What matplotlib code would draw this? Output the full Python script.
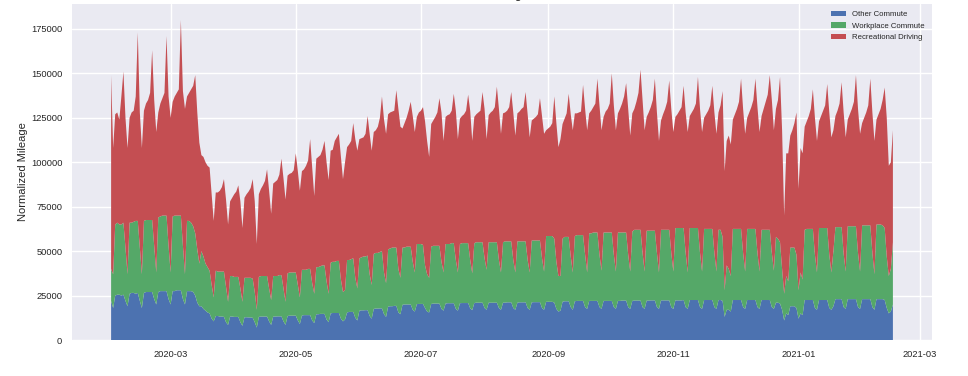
import numpy as np
import pandas as pd
import matplotlib
matplotlib.use('Agg')
import matplotlib.pyplot as plt
import matplotlib.dates as mdates

# Daily normalized mileage by trip type (thousands), 2020-02-01 .. 2021-02-16
# one line per week (Mon..Sun), first line is Sat/Sun, last line Mon/Tue
other_commute = [
    22, 18,
    25, 25.5, 25.5, 25, 25.5, 22, 19,
    26, 26.5, 26.5, 26, 26.5, 22, 18,
    26.5, 27, 27, 27, 27, 23, 20,
    27, 27.5, 27.5, 27.5, 27.5, 23, 20,
    27.5, 27.5, 28, 28, 28, 23, 20,
    27.5, 27.5, 27.5, 27, 25, 21, 19,
    19, 17.5, 16.5, 15.5, 15, 12, 10.5,
    13.5, 13.5, 13.2, 13.2, 13, 10, 8.5,
    13.2, 13.2, 13, 13, 13, 10, 8,
    12.8, 12.8, 12.7, 12.7, 12.5, 10, 7,
    13, 13.2, 13.2, 13.2, 13.2, 10.5, 8.5,
    13.2, 13.2, 13.3, 13.3, 13.3, 10.5, 8.5,
    13.5, 13.7, 13.7, 13.7, 13.7, 11, 9,
    13.8, 14, 14, 14, 14, 11, 9.5,
    14.5, 14.5, 14.7, 14.7, 14.7, 11.5, 10,
    15, 15.2, 15.2, 15.2, 15.2, 12, 10.5,
    11.5, 15.5, 15.8, 15.8, 15.8, 12.5, 11,
    16.5, 16.7, 16.7, 16.8, 16.8, 13.5, 12,
    17.5, 17.7, 17.7, 17.8, 17.8, 14.5, 13,
    18.8, 19, 19, 19.2, 19.2, 15.5, 14.5,
    19.8, 20, 20, 20, 20, 17, 16,
    20.2, 20.3, 20.3, 20.3, 18, 16, 15.5,
    20.3, 20.5, 20.5, 20.5, 20.5, 17.5, 16.5,
    20.5, 20.7, 20.7, 20.7, 20.7, 17.5, 16.5,
    20.7, 20.8, 20.8, 20.8, 20.8, 17.8, 16.8,
    20.8, 21, 21, 21, 21, 18, 17,
    21, 21, 21, 21, 21, 18, 17,
    21, 21, 21.2, 21.2, 21.2, 18, 17,
    21, 21.2, 21.2, 21.2, 21.2, 18, 17,
    21.2, 21.3, 21.3, 21.3, 21.3, 18, 17,
    21.5, 21.5, 21.5, 21.5, 21, 17.5, 16,
    16.5, 21.5, 21.8, 21.8, 21.8, 18.5, 17,
    21.8, 22, 22, 22, 22, 18.5, 17.5,
    22, 22, 22, 22, 22, 18.5, 17.5,
    22, 22, 22, 22, 22, 18.5, 17.5,
    22, 22, 22.2, 22.2, 22.2, 18.5, 17.5,
    22, 22.2, 22.2, 22.2, 22.2, 18.5, 17.5,
    22.2, 22.2, 22.3, 22.3, 22.3, 18.5, 17.5,
    22.3, 22.3, 22.3, 22.3, 22.3, 18.5, 17.5,
    22.3, 22.3, 22.3, 22.3, 22.5, 18.5, 17.5,
    22.5, 22.5, 22.5, 22.5, 22.5, 18.5, 17.5,
    22.5, 22.5, 22.5, 22.5, 22.5, 18.5, 17.5,
    22.5, 22.5, 22, 13, 17, 17, 16,
    22.5, 22.5, 22.5, 22.5, 22.5, 18.5, 17.5,
    22.5, 22.5, 22.5, 22.5, 22.5, 18.5, 17.5,
    22.5, 22.5, 22.5, 22.5, 22.5, 18.5, 17.5,
    21, 21, 20.5, 17, 11, 15, 14,
    19, 19, 19, 18, 12, 15, 14,
    22.5, 22.5, 22.5, 22.5, 22.5, 18, 17,
    22.5, 22.5, 22.5, 22.5, 22.5, 18, 17,
    19, 23, 23, 23, 23, 18.5, 17.5,
    23, 23, 23, 23, 23, 18.5, 17.5,
    23, 23, 23, 23, 23, 18.5, 17,
    23, 23, 23, 23, 22.5, 18, 15,
    16, 20,
]

workplace_commute = [
    18, 19,
    40, 40.5, 39.5, 40, 40.5, 30, 18,
    40, 39.5, 40, 41, 40.5, 30, 19,
    40.5, 40.5, 40.5, 40.5, 40.5, 30, 18,
    42, 42, 42.5, 42.5, 42.5, 30, 18,
    42, 42.5, 42, 42, 42, 30, 17,
    39.5, 39.5, 38.5, 37, 35, 30, 24,
    31, 29.5, 26.5, 25.5, 24, 19, 13.5,
    25.5, 25, 25.3, 25.3, 25.5, 20, 13,
    22.8, 22.8, 22.5, 22.5, 22.5, 19, 13.5,
    22.2, 22.2, 22.3, 22.3, 22, 17, 10,
    22.5, 22.8, 22.8, 22.8, 22.8, 18.5, 14,
    22.8, 22.8, 22.7, 23.2, 23.2, 18.5, 13,
    24, 24.3, 24.3, 24.3, 24.3, 20, 15,
    25.7, 25.5, 25.5, 26, 26, 21, 16.5,
    26.5, 26.5, 26.8, 27.3, 27.3, 21.5, 16,
    28.5, 28.8, 28.8, 29.3, 29.3, 22, 16.5,
    16.5, 29.5, 29.2, 29.7, 30.2, 22.5, 18,
    29.5, 29.8, 30.3, 30.2, 30.7, 23.5, 19,
    31, 31.3, 31.3, 31.7, 32.2, 23.5, 19,
    32.2, 32.5, 33, 32.8, 32.8, 24.5, 20.5,
    32.2, 32, 32.5, 32.5, 32.5, 27, 22,
    33.8, 33.7, 33.7, 33.2, 24, 21, 19.5,
    32.2, 32.5, 32.5, 32.5, 32.5, 26.5, 21.5,
    33.5, 33.3, 33.3, 33.8, 33.8, 27.5, 21.5,
    33.3, 33.7, 33.7, 33.7, 33.7, 27.2, 20.7,
    33.7, 34, 34, 34, 34, 28, 22.5,
    34, 34, 34, 34, 34, 27, 21,
    34, 34.5, 34.3, 34.3, 34.3, 27, 21,
    34.5, 34.3, 34.3, 34.3, 34.3, 27, 21,
    34.8, 34.7, 34.7, 34.7, 34.7, 28, 21.5,
    37, 37, 37, 37, 36, 26.5, 20,
    19.5, 35.5, 36.2, 36.2, 36.2, 28.5, 21,
    36.7, 37, 37, 37, 37, 29.5, 20.5,
    38, 38, 38.5, 38.5, 38.5, 29.5, 21.5,
    38.5, 38.5, 38.5, 38.5, 38.5, 29.5, 21,
    38.5, 38.5, 38.3, 38.3, 38.3, 29.5, 21,
    39, 39.8, 39.8, 39.8, 39.8, 30.5, 21,
    39.3, 39.3, 39.2, 39.2, 39.2, 30.5, 20.5,
    39.7, 39.7, 39.7, 39.7, 39.7, 30.5, 21,
    40.7, 40.7, 40.7, 40.7, 40.5, 30.5, 20.5,
    40.5, 40.5, 40.5, 40.5, 40.5, 30.5, 21,
    40, 40, 40, 40, 40, 30.5, 21,
    39.5, 39.5, 36, 15, 25, 23, 20,
    40, 40, 40, 40, 40, 30.5, 21,
    40, 40, 40, 40, 40, 30.5, 21,
    39.5, 39.5, 39.5, 39.5, 39.5, 30.5, 21.5,
    37, 36, 34.5, 23, 15, 21, 19,
    33, 33, 33, 30, 16, 23, 20,
    39.5, 40, 40, 40, 40, 30, 21,
    40.5, 40.5, 40.5, 40.5, 40.5, 30, 21,
    31, 40.5, 40.5, 40.5, 40.5, 30, 21,
    41, 41, 41, 41, 41, 30.5, 21,
    41.5, 41.5, 41.5, 41.5, 41.5, 30.5, 20,
    42, 42, 42, 41.5, 40.5, 29, 21,
    24, 35,
]

recreational_driving = [
    109, 71,
    62, 62, 59, 72, 85, 73, 71,
    59, 62, 62.5, 70, 106, 76, 71,
    62, 65.5, 67.5, 71.5, 95.5, 82, 79,
    59, 63.5, 66, 69, 101, 84, 87,
    64.5, 67, 69, 71, 110, 87, 93,
    70, 72, 75, 79, 89, 77, 68,
    54, 56, 57, 57, 58, 51, 43,
    44, 44.5, 45.5, 47.5, 52, 49, 43.5,
    42, 44, 46.5, 48, 51.5, 49, 41.5,
    45, 47, 48.5, 50.5, 56, 51, 37,
    46.5, 49, 51, 53.5, 60, 55, 48.5,
    52, 53, 54, 56.5, 65.5, 62, 57.5,
    55, 55.5, 56, 57.5, 67, 64, 60,
    55.5, 56.5, 58.5, 61, 73, 65, 55,
    61, 62, 62.5, 65, 70, 67, 64,
    63, 63, 68, 69.5, 71.5, 69, 63.5,
    72, 63.5, 65, 66.5, 76, 78, 77.5,
    67, 67, 67, 69, 78.5, 79, 75.5,
    68.5, 69, 71, 75.5, 87, 86, 84,
    76, 76.5, 76.5, 77, 88.5, 90, 85,
    67, 70, 72.5, 76.5, 81.5, 82, 79,
    71.5, 74, 75, 77.5, 81, 75, 68,
    69, 70.5, 72.5, 75, 83, 84, 74,
    71.5, 72.5, 73, 74.5, 84, 84, 75,
    70.5, 71.5, 72.5, 74.5, 83.5, 84, 74.5,
    71, 72, 73, 74, 84.5, 84, 73.5,
    71.5, 73, 74, 76, 87.5, 85, 78,
    72.5, 72.5, 73.5, 75.5, 84, 83, 77,
    72, 73, 74.5, 75.5, 84, 82, 76,
    67.5, 68.5, 69.5, 71, 80, 80, 77.5,
    59.5, 60.5, 61.5, 63.5, 80, 78, 72.5,
    77, 64.5, 66.5, 69.5, 80.5, 80, 80,
    69, 68.5, 69, 69.5, 84.5, 82, 80,
    67.5, 69, 70.5, 72.5, 86.5, 84, 79,
    65, 68, 69.5, 72.5, 89.5, 84, 79.5,
    67, 69.5, 72.5, 76.5, 84, 82, 76.5,
    66.5, 68, 72, 77, 90, 86, 79.5,
    64, 66.5, 69.5, 73.5, 85.5, 79, 74,
    61.5, 65, 68, 72, 84, 81, 78.5,
    62.5, 64, 66, 68, 80, 79, 79,
    63, 65, 67, 70, 85, 81, 78.5,
    62.5, 64.5, 66.5, 69.5, 80.5, 79, 77.5,
    66, 70, 82, 67, 70, 75, 74,
    61.5, 64.5, 67.5, 71.5, 84.5, 81, 77.5,
    62.5, 65.5, 68.5, 72.5, 84.5, 82, 78.5,
    64, 68, 72, 76, 87, 86, 79,
    72, 78, 93, 78, 44, 69, 72,
    63, 66, 70, 80, 57, 70, 71,
    58, 60.5, 63.5, 67.5, 78.5, 77, 74,
    60, 63, 66, 69, 81, 80, 76,
    68, 62.5, 65.5, 69.5, 81.5, 79.5, 75.5,
    60, 63, 66, 70, 85, 81, 77.5,
    57.5, 60.5, 63.5, 67.5, 82.5, 79, 75,
    59, 62, 65, 70.5, 79, 78, 62,
    60, 63,
]

series_labels = ['Other Commute', 'Workplace Commute', 'Recreational Driving']
start_date = '2020-02-01'

plt.style.use('seaborn-v0_8')
plt.rcParams['font.family'] = ['Liberation Sans', 'DejaVu Sans']

dates = pd.date_range(start_date, periods=len(other_commute), freq='D')
other = np.array(other_commute) * 1000
workplace = np.array(workplace_commute) * 1000
recreational = np.array(recreational_driving) * 1000

fig = plt.figure(figsize=(9.68, 3.76), dpi=100)
ax = fig.add_axes([0.0744, 0.0957, 0.8884, 0.8936])

ax.stackplot(dates, other, workplace, recreational, labels=series_labels,
             colors=['#4C72B0', '#55A868', '#C44E52'])

# title sits mostly above the top edge of the figure, as in the original
ax.set_title('Normalized Mileage over Time', fontsize=9, pad=4.3)
ax.set_ylabel('Normalized Mileage', fontsize=8, labelpad=2)

ax.xaxis.set_major_locator(mdates.MonthLocator(bymonth=[1, 3, 5, 7, 9, 11]))
ax.xaxis.set_major_formatter(mdates.DateFormatter('%Y-%m'))
ax.tick_params(axis='both', labelsize=6.7)

ax.legend(loc='upper right', fontsize=5.6, frameon=False)

fig.savefig('out.png', dpi=100)
